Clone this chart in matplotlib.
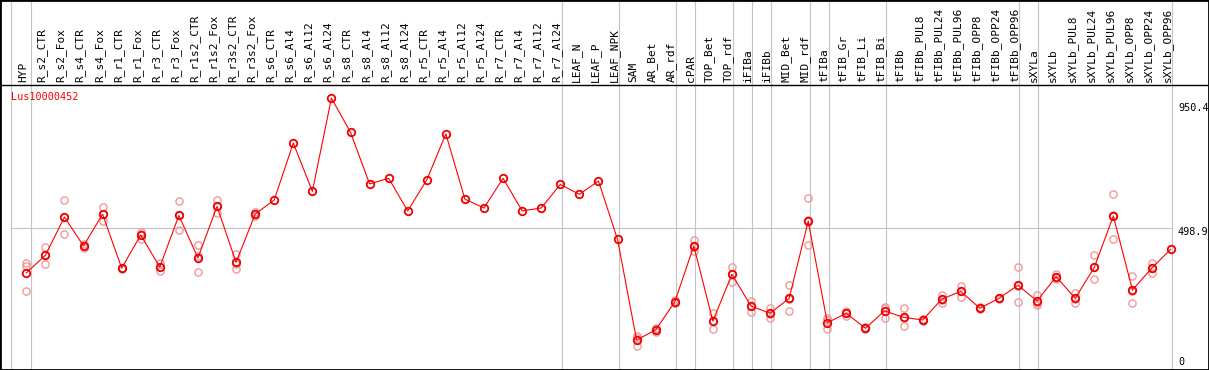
import numpy as np
import matplotlib
matplotlib.use('Agg')
import matplotlib.pyplot as plt
from matplotlib.patches import Rectangle

# sample names, left to right
samples = ['HYP', 'R_s2_CTR', 'R_s2_Fox', 'R_s4_CTR', 'R_s4_Fox', 'R_r1_CTR', 'R_r1_Fox',
           'R_r3_CTR', 'R_r3_Fox', 'R_r1s2_CTR', 'R_r1s2_Fox', 'R_r3s2_CTR', 'R_r3s2_Fox',
           'R_s6_CTR', 'R_s6_Al4', 'R_s6_Al12', 'R_s6_Al24', 'R_s8_CTR', 'R_s8_Al4',
           'R_s8_Al12', 'R_s8_Al24', 'R_r5_CTR', 'R_r5_Al4', 'R_r5_Al12', 'R_r5_Al24',
           'R_r7_CTR', 'R_r7_Al4', 'R_r7_Al12', 'R_r7_Al24', 'LEAF_N', 'LEAF_P', 'LEAF_NPK',
           'SAM', 'AR_Bet', 'AR_rdf', 'cPAR', 'TOP_Bet', 'TOP_rdf', 'iFIBa', 'iFIBb',
           'MID_Bet', 'MID_rdf', 'tFIBa', 'tFIB_Gr', 'tFIB_Li', 'tFIB_Bi', 'tFIBb',
           'tFIBb_PUL8', 'tFIBb_PUL24', 'tFIBb_PUL96', 'tFIBb_OPP8', 'tFIBb_OPP24',
           'tFIBb_OPP96', 'sXYLa', 'sXYLb', 'sXYLb_PUL8', 'sXYLb_PUL24', 'sXYLb_PUL96',
           'sXYLb_OPP8', 'sXYLb_OPP24', 'sXYLb_OPP96']

# mean expression
means = [332, 398, 541, 433, 552, 350, 474, 354, 547, 388, 581, 372, 552,
         605, 818, 637, 986, 858, 665, 686, 564, 680, 852, 608, 575,
         686, 564, 575, 663, 626, 676, 458,
         81, 119, 223, 433, 152, 327, 208, 181, 237, 526,
         146, 181, 125, 190, 166, 156, 234, 263, 200, 237, 286,
         227, 318, 237, 353, 545, 268, 349, 420]

nan = np.nan
# biological replicates (nan = no replicate shown)
rep1 = [370, 430, 605, 440, 578, 352, 486, 370, 601, 435, 605, 403, 560,
        nan, nan, nan, nan, nan, nan, nan, nan, nan, nan, nan, nan,
        nan, nan, nan, nan, nan, nan, nan,
        96, 125, 230, 455, 181, 353, 228, 200, 286, 611,
        162, 190, 128, 202, 200, 158, 249, 283, 203, 240, 353,
        249, 328, 256, 398, 627, 320, 368, nan]
rep2 = [264, 365, 476, 425, 525, 348, 458, 339, 494, 334, 557, 346, 545,
        nan, nan, nan, nan, nan, nan, nan, nan, nan, nan, nan, nan,
        nan, nan, nan, nan, nan, nan, nan,
        60, 110, 220, 415, 123, 299, 187, 163, 190, 438,
        121, 172, 122, 165, 135, 154, 221, 243, 197, 234, 222,
        212, 308, 221, 308, 458, 218, 331, nan]
rep3 = [359, 399, 542, 434, 553, 350, 478, 353, 547, 394, 581, 367, 551,
        nan, nan, nan, nan, nan, nan, nan, nan, nan, nan, nan, nan,
        nan, nan, nan, nan, nan, nan, nan,
        87, 121, 220, 429, 152, 329, 209, 180, 235, 529,
        155, 181, 125, 203, 163, 156, 232, 263, 200, 237, 283,
        220, 318, 234, 353, 550, 266, 349, nan]

# last sample of each group gets a separator line
group_ends = ['HYP', 'R_r7_Al24', 'LEAF_NPK', 'AR_rdf', 'cPAR', 'TOP_rdf', 'iFIBa', 'iFIBb',
              'MID_rdf', 'tFIBa', 'tFIB_Bi', 'tFIBb_OPP96', 'sXYLa', 'sXYLb_OPP96']
gene = 'Lus10000452'
ref_vals = [950.4, 498.9, 0]

x = np.arange(len(samples))

fig = plt.figure(figsize=(12.09, 3.70), dpi=100)
ax = fig.add_axes([1.5 / 1209, 1 / 370, 1205.5 / 1209, 284 / 370])
ax.set_xlim(-1.30, 61.91)
ax.set_ylim(-27.3, 1035)
ax.set_xticks([])
ax.set_yticks([])
for k, s in ax.spines.items():
    s.set_linewidth(1.0)
    s.set_color('black')
    if k != 'top':
        s.set_visible(False)

grey = '#c4c4c4'
ax.axvline(-0.8, ymin=0, ymax=1.3, color=grey, lw=0.8, clip_on=False, zorder=0)
for g in group_ends:
    i = samples.index(g)
    off = 0.25 if i == 0 else 0.07
    ax.axvline(i + off, ymin=0, ymax=1.3, color=grey, lw=0.8, clip_on=False, zorder=0)
ax.plot([-0.8, 60.02], [ref_vals[1], ref_vals[1]], color=grey, lw=0.8, zorder=0)

# replicates
for r in (rep1, rep2, rep3):
    ax.plot(x, r, 'o', ms=5.2, mfc='none', mec='#f09a9a', mew=1.0, zorder=2)
# means
ax.plot(x, means, '-', color='#ff0000', lw=0.8, zorder=3)
ax.plot(x, means, 'o', ms=5.4, mfc='none', mec='#ee0000', mew=1.3, zorder=4)

# sample labels on top
tr = ax.get_xaxis_transform()
for i, s in enumerate(samples):
    ax.text(i - 0.17, 1 + 2.5 / 284, s, rotation=90, ha='center', va='bottom',
            transform=tr, fontsize=8, family='DejaVu Sans Mono', clip_on=False)

ax.text(9.3 / 1205.5, 1 - 11.7 / 284, gene, transform=ax.transAxes, color='red',
        fontsize=7.3, family='DejaVu Sans Mono', va='center', ha='left')

for v, dy in zip(ref_vals, [0, -3.5, 0]):
    yy = ax.transData.transform((0, v))[1] + dy
    ax.text(1178 / 1209, yy / 370, f'{v:g}' if v == 0 else f'{v}', transform=fig.transFigure,
            fontsize=7.3, family='DejaVu Sans Mono', va='center', ha='left')

fig.patches.append(Rectangle((0, 0), 1, 1, transform=fig.transFigure, fill=False,
                             edgecolor='black', lw=2.0))

fig.savefig('out.png', dpi=100)
